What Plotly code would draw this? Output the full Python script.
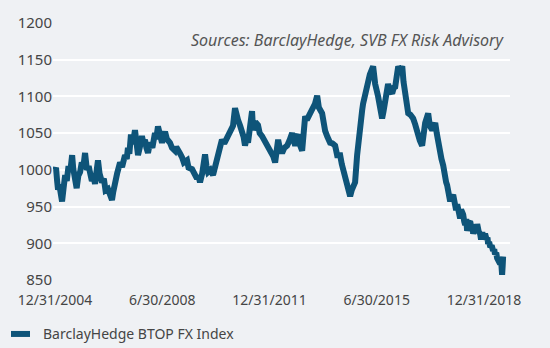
import plotly.graph_objects as go

dates = [
"2004-12-31","2005-01-12","2005-01-25","2005-02-05","2005-02-20","2005-03-10","2005-03-25","2005-04-12","2005-05-01","2005-05-20",
"2005-06-10","2005-07-01","2005-07-23","2005-08-05","2005-08-27","2005-09-15","2005-10-05","2005-10-26","2005-11-15","2005-12-05",
"2005-12-24","2006-01-15","2006-02-05","2006-02-22","2006-03-15","2006-04-05","2006-04-22","2006-05-10","2006-05-27","2006-06-15",
"2006-07-14","2006-08-05","2006-08-25","2006-09-23","2006-10-15","2006-11-10","2006-11-25","2006-12-16","2007-01-10","2007-02-14",
"2007-03-10","2007-04-14","2007-05-05","2007-05-19","2007-06-05","2007-06-24","2007-07-15","2007-08-11","2007-08-25","2007-09-16",
"2007-10-10","2007-11-02","2007-11-20","2007-12-08","2007-12-25","2008-01-13","2008-02-06","2008-03-05","2008-04-05","2008-04-20",
"2008-05-11","2008-06-01","2008-06-28","2008-07-15","2008-08-03","2008-08-25","2008-10-01","2008-10-25","2008-11-30","2008-12-15",
"2009-01-05","2009-01-30","2009-02-22","2009-03-15","2009-04-22","2009-05-10","2009-06-21","2009-07-15","2009-08-19","2009-09-05",
"2009-09-24","2009-10-20","2009-11-23","2009-12-10","2009-12-28","2010-01-25","2010-02-26","2010-03-20","2010-04-14","2010-05-10",
"2010-06-12","2010-07-10","2010-08-23","2010-09-20","2010-10-22","2010-11-15","2010-12-01","2010-12-21","2011-01-15","2011-02-07",
"2011-02-25","2011-03-14","2011-04-01","2011-04-19","2011-05-15","2011-06-06","2011-06-18","2011-07-15","2011-08-16","2011-09-05",
"2011-10-03","2011-11-01","2011-12-02","2011-12-25","2012-01-31","2012-02-15","2012-03-07","2012-03-25","2012-04-12","2012-05-01",
"2012-05-29","2012-06-25","2012-07-28","2012-08-25","2012-09-26","2012-10-15","2012-11-01","2012-11-20","2012-12-06","2012-12-25",
"2013-01-23","2013-02-10","2013-02-28","2013-03-20","2013-04-28","2013-05-15","2013-06-03","2013-06-25","2013-07-21","2013-08-10",
"2013-09-18","2013-10-05","2013-10-24","2013-11-20","2013-12-22","2014-01-20","2014-02-20","2014-03-16","2014-04-21","2014-05-10",
"2014-05-26","2014-06-15","2014-07-13","2014-08-01","2014-08-18","2014-09-05","2014-09-23","2014-10-16","2014-11-09","2014-11-21",
"2014-12-15","2015-01-08","2015-01-19","2015-02-12","2015-03-08","2015-03-20","2015-04-10","2015-05-19","2015-06-12","2015-07-17",
"2015-08-10","2015-09-03","2015-09-20","2015-10-09","2015-10-25","2015-11-13","2015-12-05","2016-01-01","2016-01-20","2016-02-06",
"2016-02-25","2016-03-13","2016-04-05","2016-04-30","2016-05-15","2016-06-04","2016-07-10","2016-08-05","2016-09-07","2016-10-01",
"2016-10-25","2016-11-25","2016-12-23","2017-01-10","2017-01-28","2017-03-05","2017-03-25","2017-04-22","2017-05-28","2017-06-15",
"2017-07-02","2017-07-15","2017-07-25","2017-08-10","2017-08-31","2017-09-10","2017-09-20","2017-10-05","2017-10-17","2017-11-05",
"2017-11-22","2017-12-01","2017-12-10","2017-12-28","2018-01-10","2018-01-20","2018-02-01","2018-02-14","2018-03-05","2018-03-21",
"2018-04-01","2018-04-10","2018-04-26","2018-05-08","2018-05-20","2018-06-01","2018-06-12","2018-07-01","2018-07-18","2018-08-05",
"2018-08-15","2018-08-23","2018-09-05","2018-09-15","2018-10-01","2018-10-10","2018-10-28","2018-11-14","2018-11-25","2018-12-10",
"2018-12-25","2019-01-12","2019-01-30","2019-02-10","2019-02-17","2019-03-01","2019-03-15","2019-04-01","2019-04-17","2019-05-01",
"2019-05-10","2019-05-25","2019-06-04","2019-06-25","2019-07-10","2019-07-20","2019-07-25","2019-08-03","2019-08-10","2019-08-15",
]

btop_fx = [
1000,1003,985,973,980,962,957,975,993,985,
1005,998,1020,1002,988,975,992,997,1010,1005,
1023,1000,1005,993,985,990,981,998,1013,995,
983,988,972,974,965,959,970,987,995,1010,
1004,1020,1015,1030,1022,1048,1035,1054,1035,1020,
1032,1046,1036,1041,1030,1023,1037,1030,1050,1042,
1059,1045,1037,1045,1052,1042,1037,1030,1026,1031,
1028,1022,1017,1010,1013,1003,1001,995,988,992,
983,995,1021,1005,997,1000,993,1003,1014,1030,
1041,1036,1046,1050,1060,1084,1070,1068,1060,1054,
1045,1033,1042,1037,1060,1080,1054,1065,1061,1050,
1046,1040,1034,1028,1023,1018,1010,1025,1041,1030,
1023,1030,1033,1040,1050,1040,1033,1045,1048,1035,
1026,1050,1073,1068,1077,1080,1086,1090,1101,1085,
1077,1060,1053,1045,1037,1036,1033,1020,1020,1008,
1001,995,987,975,964,972,979,983,1020,1037,
1054,1081,1090,1104,1121,1118,1130,1141,1117,1100,
1085,1070,1080,1095,1105,1117,1108,1104,1112,1113,
1128,1141,1135,1141,1120,1100,1077,1075,1070,1062,
1050,1040,1033,1050,1064,1077,1060,1054,1064,1050,
1037,1030,1022,1015,1006,995,990,983,979,968,
957,965,962,966,955,958,945,953,940,934,
946,944,939,930,925,933,917,928,930,920,
926,913,920,925,918,926,916,913,905,915,
906,913,905,908,899,902,895,897,890,892,
885,887,880,876,872,880,865,857,870,882,
]

tick_dates = ["2004-12-31", "2008-06-30", "2011-12-31", "2015-06-30", "2018-12-31"]
tick_labels = ["12/31/2004", "6/30/2008", "12/31/2011", "6/30/2015", "12/31/2018"]
y_ticks = [850, 900, 950, 1000, 1050, 1100, 1150, 1200]

series_name = "BarclayHedge BTOP FX Index"
source_text = "Sources: BarclayHedge, SVB FX Risk Advisory"

BG = "#eff1f4"
LINE = "#0e5479"
FONT = "Noto Sans"
TXT = "#454545"

fig = go.Figure()
fig.add_trace(go.Scatter(
    x=dates, y=btop_fx, mode="lines", name=series_name,
    line=dict(color=LINE, width=6), showlegend=False,
))

# plot area: x 53..510 px, y 18..280 px
PL, PW, PT, PH = 53, 457, 18, 262

def px_x(p):
    return (p - PL) / PW

def px_y(p):
    return (PT + PH - p) / PH

fig.update_layout(
    width=550, height=348,
    margin=dict(l=PL, r=550 - PL - PW, t=PT, b=348 - PT - PH),
    paper_bgcolor=BG, plot_bgcolor=BG,
    font=dict(family=FONT, size=15, color=TXT),
    xaxis=dict(type="date", range=["2004-12-07", "2019-11-05"],
               tickvals=tick_dates, ticktext=tick_labels,
               tickfont=dict(size=14),
               ticklabelstandoff=10,
               showgrid=False, zeroline=False, showline=False, ticks=""),
    yaxis=dict(range=[850, 1200], tickvals=y_ticks,
               tickfont=dict(size=15),
               showgrid=True, gridcolor="#ffffff", gridwidth=2,
               zeroline=False, showline=False, ticks=""),
    shapes=[dict(type="line", xref="paper", yref="paper",
                 x0=px_x(11), x1=px_x(30), y0=px_y(335), y1=px_y(335),
                 line=dict(color=LINE, width=6))],
    annotations=[
        dict(text="<i>" + source_text + "</i>", xref="paper", yref="paper",
             x=px_x(506), y=px_y(35), xanchor="right", yanchor="middle",
             showarrow=False, font=dict(size=16, color="#555555")),
        dict(text=series_name, xref="paper", yref="paper",
             x=px_x(41), y=px_y(335), xanchor="left", yanchor="middle",
             showarrow=False, font=dict(size=14, color=TXT)),
    ],
)

fig.write_html("out.html")
